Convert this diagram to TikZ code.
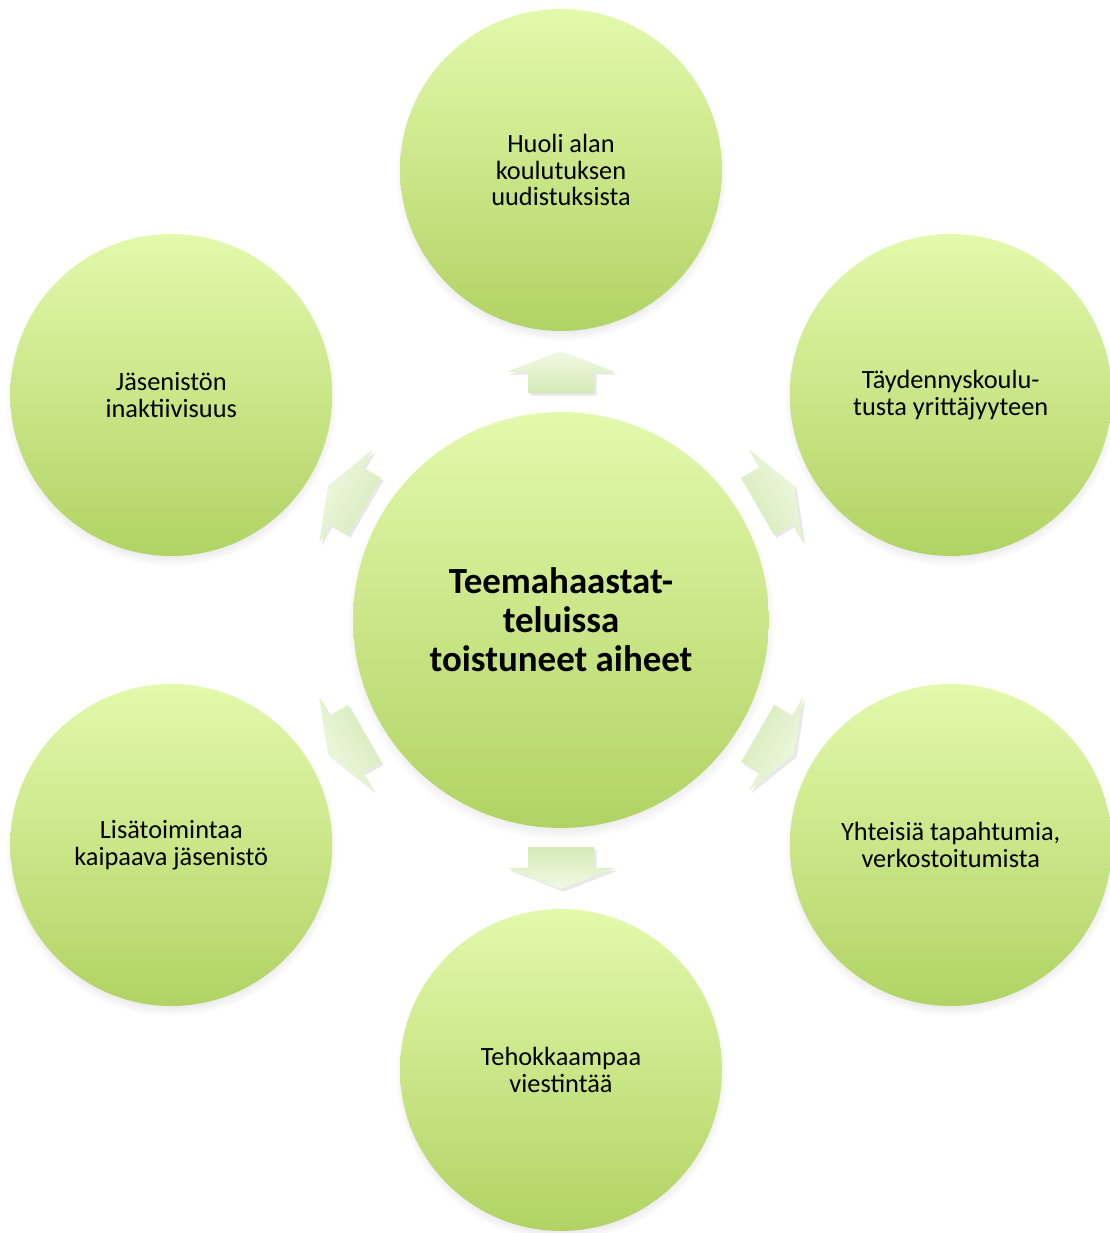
\documentclass[tikz,border=0pt]{standalone}
\usepackage{fontspec}
\setmainfont{Carlito}
\usetikzlibrary{calc,shadows}
\definecolor{ballTop}{RGB}{227,249,172}
\definecolor{ballBot}{RGB}{177,211,100}
\definecolor{arrBase}{RGB}{213,234,182}
\definecolor{arrTip}{RGB}{240,249,228}

\begin{document}
\begin{tikzpicture}[x=0.02cm, y=0.02cm,
  ball/.style={circle, inner sep=0pt, align=center, top color=ballTop, bottom color=ballBot,
    circular drop shadow={shadow xshift=0pt, shadow yshift=-3pt, shadow scale=1.03, opacity=.35}},
  sat/.style={ball, minimum size=6.44cm, font=\fontsize{15}{15.2}\selectfont},
  hubball/.style={ball, minimum size=8.32cm, font=\bfseries\fontsize{21}{22.3}\selectfont},
  blockarrow/.style={drop shadow={shadow xshift=1.5pt, shadow yshift=-1.5pt, opacity=.18}}]
\useasboundingbox (0,0) rectangle (1109,1233);

\node[hubball] (hub) at (561,613) {Teemahaastat-\\teluissa\\toistuneet aiheet};

\node[sat] (huoli)   at ($(hub)+(90:450)$)  {Huoli alan\\koulutuksen\\uudistuksista};
\node[sat] (taydenn) at ($(hub)+(30:450)$)  {Täydennyskoulu-\\tusta yrittäjyyteen};
\node[sat] (yhteis)  at ($(hub)+(-30:450)$) {Yhteisiä tapahtumia,\\verkostoitumista};
\node[sat] (viest)   at ($(hub)+(-90:450)$) {Tehokkaampaa\\viestintää};
\node[sat] (lisat)   at ($(hub)+(210:450)$) {Lisätoimintaa\\kaipaava jäsenistö};
\node[sat] (inakt)   at ($(hub)+(150:450)$) {Jäsenistön\\inaktiivisuus};

% block arrows pointing out of the hub
\foreach \a in {90,30,-30,-90,210,150}{
  \pgfmathsetmacro{\sa}{\a-90}
  \shade[blockarrow, bottom color=arrBase, top color=arrTip, shading angle=\sa]
    ($(hub)+(\a:227)+(\a+90:33)$) -- ($(hub)+(\a:248)+(\a+90:33)$)
    -- ($(hub)+(\a:248)+(\a+90:54)$) -- ($(hub)+(\a:269)$)
    -- ($(hub)+(\a:248)+(\a-90:54)$) -- ($(hub)+(\a:248)+(\a-90:33)$)
    -- ($(hub)+(\a:227)+(\a-90:33)$) -- cycle;
}
\end{tikzpicture}
\end{document}
